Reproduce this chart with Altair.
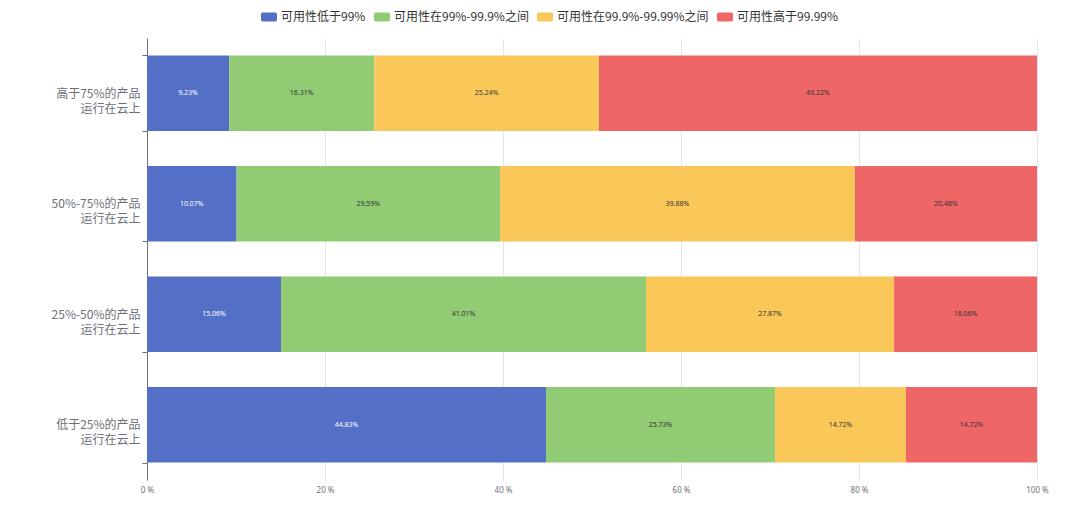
import altair as alt
import pandas as pd

categories = ["高于75%的产品\n运行在云上", "50%-75%的产品\n运行在云上",
              "25%-50%的产品\n运行在云上", "低于25%的产品\n运行在云上"]
series = ["可用性低于99%", "可用性在99%-99.9%之间", "可用性在99.9%-99.99%之间", "可用性高于99.99%"]
colors = ["#5470c6", "#91cc75", "#fac858", "#ee6666"]

s1 = [9.23, 10.07, 15.06, 44.83]
s2 = [16.31, 29.59, 41.01, 25.73]
s3 = [25.24, 39.88, 27.87, 14.72]
s4 = [49.22, 20.46, 16.06, 14.72]
x_ticks = [0, 20, 40, 60, 80, 100]

rows = []
for si, (name, vals) in enumerate(zip(series, [s1, s2, s3, s4])):
    for ci, cat in enumerate(categories):
        rows.append({"cat": cat, "series": name, "order": si, "value": vals[ci]})
df = pd.DataFrame(rows)

base = alt.Chart(df).transform_stack(
    stack="value", groupby=["cat"], as_=["x0", "x1"],
    sort=[alt.SortField("order", order="ascending")]
).transform_calculate(mid="(datum.x0 + datum.x1) / 2",
                      txt="format(datum.value, '.2f') + '%'")

yenc = alt.Y("cat:N", sort=categories, title=None,
             scale=alt.Scale(paddingInner=0.317, paddingOuter=0.158),
             axis=alt.Axis(labelExpr="split(datum.label, '\\n')", labelFont="Noto Sans CJK SC",
                           labelFontSize=12, labelColor="#6e7079", labelLineHeight=15,
                           domainColor="#6e7079", tickColor="#6e7079", tickSize=5,
                           tickBand="extent", labelPadding=2, grid=False, labelLimit=200))

bars = base.mark_bar().encode(
    x=alt.X("x0:Q", title=None, scale=alt.Scale(domain=[0, 100], nice=False),
            axis=alt.Axis(values=x_ticks, labelExpr="datum.value + ' %'", labelFontSize=8,
                          labelColor="#6e7079", domain=False, ticks=False, grid=True,
                          gridColor="#e0e6f1", labelPadding=6, labelFont="Noto Sans",
                          labelFlush=False, labelAlign="center")),
    x2="x1:Q",
    y=yenc,
    color=alt.Color("series:N", sort=series,
                    scale=alt.Scale(domain=series, range=colors),
                    legend=alt.Legend(title=None, orient="none", direction="horizontal",
                                      legendX=114, legendY=-29,
                                      symbolType="M-0.8,-0.55 L0.8,-0.55 Q1,-0.55 1,-0.35 L1,0.35 Q1,0.55 0.8,0.55 L-0.8,0.55 Q-1,0.55 -1,0.35 L-1,-0.35 Q-1,-0.55 -0.8,-0.55 Z",
                                      symbolSize=256, symbolStrokeWidth=0, symbolOpacity=1,
                                      labelFontSize=12, labelColor="#333", labelLimit=300,
                                      labelFont="Noto Sans CJK SC", columnPadding=8,
                                      labelOffset=4)),
)

labels = base.mark_text(fontSize=7, font="Noto Sans").encode(
    x=alt.X("mid:Q"),
    y=alt.Y("cat:N", sort=categories),
    text=alt.Text("txt:N"),
    color=alt.condition("datum.order == 0", alt.value("#ffffff"), alt.value("#333333")),
)

chart = (bars + labels).properties(
    width=890, height=442,
    padding={"left": 139, "top": 30, "right": 30, "bottom": 20},
    autosize=alt.AutoSizeParams(type="none"),
).configure_view(stroke=None)

chart.save("out.html", embed_options={"renderer": "svg", "actions": False})
